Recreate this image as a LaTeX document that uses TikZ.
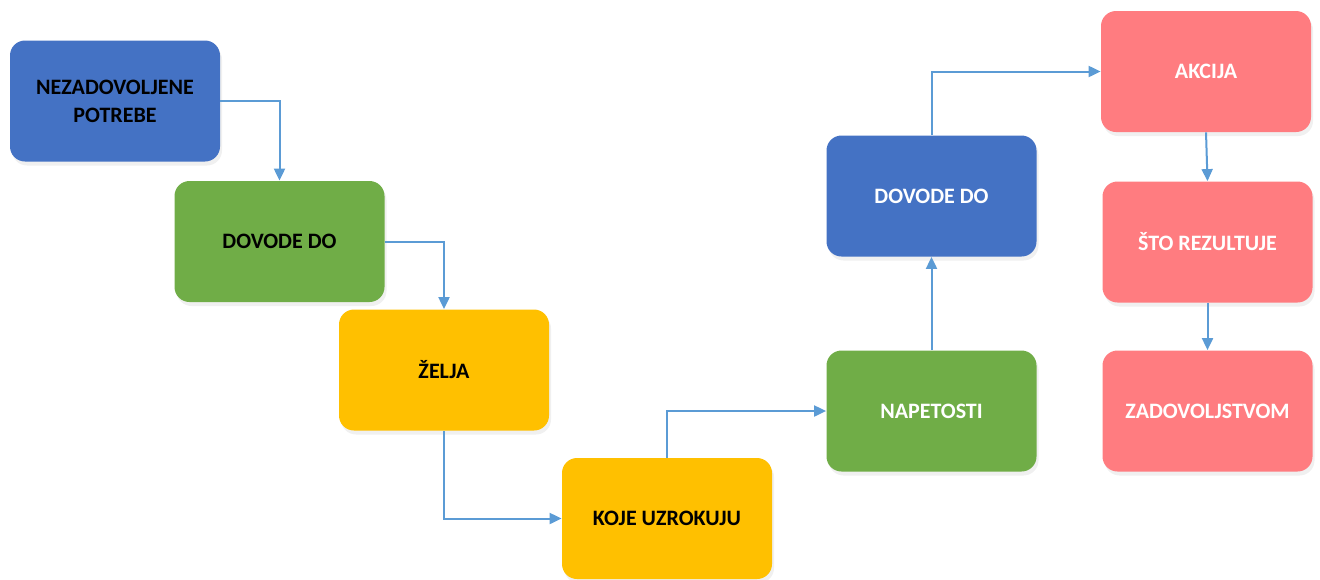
\documentclass[tikz,border=0pt]{standalone}
\usepackage{fontspec}
\setmainfont{Carlito}
\usetikzlibrary{arrows.meta,shadows}
\definecolor{boxblue}{HTML}{4472C4}
\definecolor{boxgreen}{HTML}{70AD47}
\definecolor{boxyellow}{HTML}{FFC000}
\definecolor{boxred}{HTML}{FF7C80}
\definecolor{linkblue}{HTML}{5B9BD5}
\tikzset{
  stage/.style={rounded corners=7.5pt, minimum width=105pt, minimum height=60.5pt,
    align=center, inner sep=2pt, font=\fontsize{11}{14}\selectfont\bfseries,
    drop shadow={opacity=0.12, shadow xshift=1pt, shadow yshift=-2pt}},
  link/.style={linkblue, line width=1pt, -{Triangle[length=6pt,width=5.5pt]}}
}
\begin{document}
\begin{tikzpicture}[x=0.5pt,y=-0.5pt]
    \useasboundingbox (0,0) rectangle (1320,579);
    % left half
    \node[stage,fill=boxblue] (potrebe) at (115,101) {NEZADOVOLJENE\\POTREBE};
    \node[stage,fill=boxgreen] (dovodeA) at (279.5,241.5) {DOVODE DO};
    \node[stage,fill=boxyellow] (zelja) at (444,370) {ŽELJA};
    \node[stage,fill=boxyellow] (uzrok) at (667,518.5) {KOJE UZROKUJU};
    % right half
    \node[stage,fill=boxgreen,text=white] (napetost) at (931.5,411) {NAPETOSTI};
    \node[stage,fill=boxblue,text=white] (dovodeB) at (931.5,196) {DOVODE DO};
    \node[stage,fill=boxred,text=white] (akcija) at (1206,71.5) {AKCIJA};
    \node[stage,fill=boxred,text=white] (rezultat) at (1207.5,242) {ŠTO REZULTUJE};
    \node[stage,fill=boxred,text=white] (zadovoljstvo) at (1207.5,411) {ZADOVOLJSTVOM};
    % connectors
    \draw[link] (potrebe.east) -| (dovodeA.north);
    \draw[link] (dovodeA.east) -| (zelja.north);
    \draw[link] (zelja.south) |- (uzrok.west);
    \draw[link] (uzrok.north) |- (napetost.west);
    \draw[link] (napetost.north) -- (dovodeB.south);
    \draw[link] (dovodeB.north) |- (akcija.west);
    \draw[link] (akcija.south) -- (rezultat.north);
    \draw[link] (rezultat.south) -- (zadovoljstvo.north);
\end{tikzpicture}
\end{document}
